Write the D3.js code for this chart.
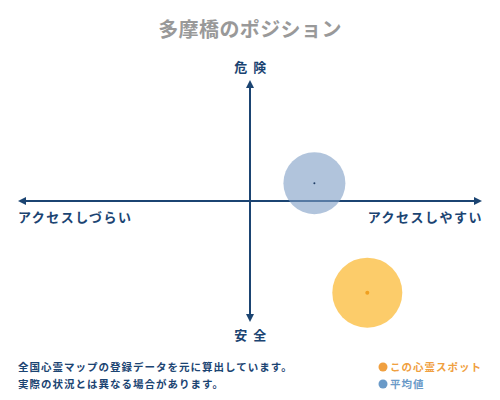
<!DOCTYPE html>
<html>
<head>
<meta charset="utf-8">
<script src="https://cdn.jsdelivr.net/npm/d3@7"></script>
<style>
  body { margin: 0; background: #fff; }
  svg { display: block; font-family: "Noto Sans CJK JP", sans-serif; }
</style>
</head>
<body>
<svg id="chart"></svg>
<script>
// position values: x = access (easy > 0), y = danger (> 0)
const labels = ["この心霊スポット", "平均値"];
const xValues = [51, 28];
const yValues = [-77, 15];
const sizes = [35, 31];
const colors = ["#fbbf45", "#7d9cc4"];
const dotColors = ["#f0a020", "#1f3d66"];
const legendColors = ["#f0a040", "#6a9ac8"];

const axisLabels = { up: "危 険", down: "安 全", left: "アクセスしづらい", right: "アクセスしやすい" };
const notes = ["全国心霊マップの登録データを元に算出しています。", "実際の状況とは異なる場合があります。"];

const width = 500;
const height = 400;
const navy = "#1b4472";

const svg = d3.select("#chart").attr("width", width).attr("height", height);

const x = d3.scaleLinear().domain([-100, 100]).range([20, 480]);
const y = d3.scaleLinear().domain([-100, 100]).range([320, 82]);

svg.append("defs").append("marker")
    .attr("id", "arrow")
    .attr("viewBox", "0 0 10 10")
    .attr("refX", 5).attr("refY", 5)
    .attr("markerWidth", 4).attr("markerHeight", 4)
    .attr("orient", "auto-start-reverse")
    .append("path")
    .attr("d", "M0,0L10,5L0,10z")
    .attr("fill", navy);

// title
svg.append("text")
    .attr("x", width / 2).attr("y", 37)
    .attr("text-anchor", "middle")
    .attr("font-size", 20)
    .attr("font-weight", "bold")
    .attr("letter-spacing", 0.4)
    .attr("fill", "#999")
    .text("多摩橋のポジション");

// axes
svg.append("line")
    .attr("x1", x(-100) + 2).attr("x2", x(100) - 2)
    .attr("y1", y(0)).attr("y2", y(0))
    .attr("stroke", navy).attr("stroke-width", 2)
    .attr("marker-start", "url(#arrow)")
    .attr("marker-end", "url(#arrow)");

svg.append("line")
    .attr("x1", x(0)).attr("x2", x(0))
    .attr("y1", y(100) + 2).attr("y2", y(-100) - 2)
    .attr("stroke", navy).attr("stroke-width", 2)
    .attr("marker-start", "url(#arrow)")
    .attr("marker-end", "url(#arrow)");

const axisText = (tx, ty, anchor, str) => svg.append("text")
    .attr("x", tx).attr("y", ty)
    .attr("text-anchor", anchor)
    .attr("font-size", 13)
    .attr("font-weight", "bold")
    .attr("letter-spacing", 1.5)
    .attr("fill", navy)
    .text(str);

axisText(x(0) + 1, 72, "middle", axisLabels.up);
axisText(x(0) + 1, 340, "middle", axisLabels.down);
axisText(18, 222, "start", axisLabels.left);
axisText(483, 222, "end", axisLabels.right);

// bubbles
const data = labels.map((d, i) => ({ label: d, x: xValues[i], y: yValues[i], r: sizes[i], i }));

svg.selectAll(".bubble")
    .data(data)
    .enter()
    .append("circle")
    .attr("class", "bubble")
    .attr("cx", (d) => x(d.x))
    .attr("cy", (d) => y(d.y))
    .attr("r", (d) => d.r)
    .attr("fill", (d) => colors[d.i])
    .attr("fill-opacity", (d) => (d.i === 0 ? 0.8 : 0.6));

svg.selectAll(".center")
    .data(data)
    .enter()
    .append("circle")
    .attr("class", "center")
    .attr("cx", (d) => x(d.x))
    .attr("cy", (d) => y(d.y))
    .attr("r", (d) => (d.i === 0 ? 2 : 1))
    .attr("fill", (d) => dotColors[d.i]);

// notes
svg.selectAll(".note")
    .data(notes)
    .enter()
    .append("text")
    .attr("class", "note")
    .attr("x", 18)
    .attr("y", (d, i) => 371 + i * 17)
    .attr("font-size", 10.5)
    .attr("font-weight", "bold")
    .attr("letter-spacing", 1)
    .attr("fill", navy)
    .text((d) => d);

// legend
const legend = svg.selectAll(".legend")
    .data(data)
    .enter()
    .append("g")
    .attr("class", "legend")
    .attr("transform", (d, i) => `translate(383,${367 + i * 17})`);

legend.append("circle")
    .attr("r", 4.5)
    .attr("fill", (d) => legendColors[d.i]);

legend.append("text")
    .attr("x", 7).attr("y", 4)
    .attr("font-size", 10.5)
    .attr("font-weight", "bold")
    .attr("letter-spacing", 1)
    .attr("fill", (d) => legendColors[d.i])
    .text((d) => d.label);
</script>
</body>
</html>
